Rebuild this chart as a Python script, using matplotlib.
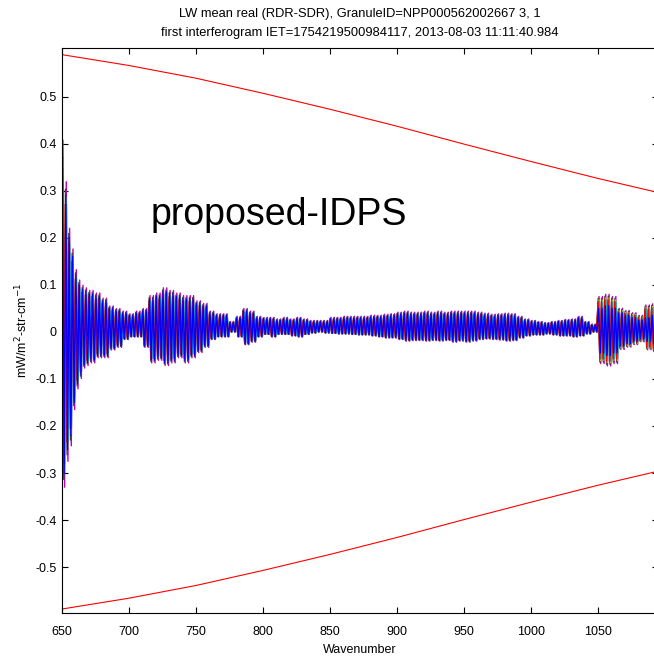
import numpy as np
import matplotlib
matplotlib.use('Agg')
import matplotlib.pyplot as plt

plt.rcParams['font.family'] = ['Liberation Sans', 'DejaVu Sans']
plt.rcParams['axes.unicode_minus'] = False

# spectral bins (cm-1): 2.5 wide near the band edge, 5 wide after
bin_edges = [650, 652.5, 655, 657.5, 660, 662.5, 665, 667.5, 670] + list(range(675, 1100, 5))

# blue (top-most) series: upper / lower extremes of the ringing per bin
blue_top = [0.37, 0.29, 0.20, 0.16, 0.12, 0.10, 0.09, 0.085,
            0.08, 0.075, 0.065, 0.05, 0.045,
            0.04, 0.035, 0.04, 0.045, 0.07,
            0.075, 0.085, 0.08, 0.075, 0.07,
            0.07, 0.06, 0.055, 0.04, 0.035,
            0.035, 0.02, 0.03, 0.045, 0.04,
            0.03, 0.028, 0.028, 0.025, 0.028,
            0.025, 0.028, 0.025, 0.022, 0.022,
            0.022, 0.028, 0.028, 0.03, 0.03,
            0.03, 0.03, 0.032, 0.032, 0.034,
            0.035, 0.038, 0.04, 0.038, 0.038,
            0.04, 0.038, 0.04, 0.038, 0.04,
            0.04, 0.04, 0.04, 0.038, 0.036,
            0.034, 0.035, 0.036, 0.035, 0.03,
            0.025, 0.022, 0.02, 0.018, 0.02,
            0.022, 0.024, 0.025, 0.03, 0.02,
            0.015, 0.05, 0.055, 0.05, 0.04,
            0.035, 0.03, 0.025, 0.03, 0.035]
blue_bot = [-0.30, -0.25, -0.22, -0.15, -0.11, -0.09, -0.07, -0.065,
            -0.06, -0.05, -0.05, -0.035, -0.03,
            -0.015, -0.01, -0.01, -0.03, -0.06,
            -0.055, -0.065, -0.06, -0.05, -0.06,
            -0.05, -0.04, -0.03, -0.015, -0.01,
            -0.01, 0.0, -0.01, -0.025, -0.02,
            -0.01, -0.005, -0.01, -0.005, -0.005,
            -0.008, -0.01, -0.005, -0.002, 0.0,
            -0.002, -0.003, -0.004, -0.004, -0.005,
            -0.006, -0.006, -0.008, -0.01, -0.012,
            -0.012, -0.015, -0.018, -0.017, -0.017,
            -0.018, -0.017, -0.018, -0.017, -0.02,
            -0.018, -0.02, -0.018, -0.015, -0.014,
            -0.015, -0.016, -0.018, -0.017, -0.012,
            -0.008, -0.006, -0.006, -0.004, -0.006,
            -0.008, -0.008, -0.01, -0.008, -0.004,
            0.0, -0.045, -0.05, -0.045, -0.03,
            -0.025, -0.02, -0.015, -0.02, -0.025]
# how far the other FOVs reach beyond blue, per bin
outer_scale = [1.1] * 84 + [1.5, 1.45, 1.5, 1.25, 1.3, 1.35, 1.4, 1.9, 1.7]

# other FOV lines (MATLAB colour order), gain relative to the outer envelope and shift in cm-1
fov_colors = [(0.75, 0, 0.75), (0.25, 0.25, 0.25), (0.75, 0.75, 0), (0, 0.5, 0), (0, 0.75, 0.75), (1, 0, 0)]
fov_gain = [1.0, 0.95, 0.9, 0.85, 0.85, 0.85]
fov_shift = [0.3, -0.3, 0.2, -0.2, 0.4, -0.4]

# red envelope
red_wn = [650, 700, 750, 800, 850, 900, 950, 1000, 1050, 1095]
red_top = [0.589, 0.566, 0.539, 0.507, 0.473, 0.437, 0.399, 0.362, 0.326, 0.296]

yticks = [-0.5, -0.4, -0.3, -0.2, -0.1, 0, 0.1, 0.2, 0.3, 0.4, 0.5]
ytick_labels = ['-0.5', '-0.4', '-0.3', '-0.2', '-0.1', '0', '0.1', '0.2', '0.3', '0.4', '0.5']
xticks = [650, 700, 750, 800, 850, 900, 950, 1000, 1050]


def zigzag(top, bot, scale):
    xs, ys = [], []
    for i in range(len(top)):
        lo, hi = bin_edges[i], bin_edges[i + 1]
        n = int(round((hi - lo) / 1.25))
        for k in range(n):
            xs.append(lo + 0.625 + 1.25 * k)
            ys.append((top[i] if k % 2 == 0 else bot[i]) * scale[i])
    return np.array(xs), np.array(ys)


fig = plt.figure(figsize=(6.54, 6.57), dpi=100)
ax = fig.add_axes([0.0943, 0.0665, 0.912, 0.8604])

for c, g, s in zip(fov_colors, fov_gain, fov_shift):
    xs, ys = zigzag(blue_top, blue_bot, outer_scale)
    ax.plot(xs + s, ys * g, color=c, lw=1.0)

xb, yb = zigzag(blue_top, blue_bot, [1.0] * len(blue_top))
ax.plot(xb, yb, color='b', lw=1.0)

ax.plot(red_wn, red_top, color='r', lw=0.8)
ax.plot(red_wn, [-v for v in red_top], color='r', lw=0.8)

ax.text(716, 0.249, 'proposed-IDPS', fontsize=27, va='center', ha='left')

ax.set_xlim(650, 1095)
ax.set_ylim(-0.598, 0.603)
ax.set_xticks(xticks)
ax.set_xticklabels([str(t) for t in xticks])
ax.set_yticks(yticks)
ax.set_yticklabels(ytick_labels)
ax.tick_params(direction='in', top=True, right=True, length=4, labelsize=9)
ax.tick_params(axis='x', pad=9)
ax.set_xlabel('Wavenumber', fontsize=9, labelpad=4.5)
ax.set_ylabel('mW/m$^2$-str-cm$^{-1}$', fontsize=9, labelpad=4)
ax.set_title('LW mean real (RDR-SDR), GranuleID=NPP000562002667 3, 1\n'
             'first interferogram IET=1754219500984117, 2013-08-03 11:11:40.984',
             fontsize=9.3, pad=8.5, linespacing=1.75)

fig.savefig('out.png', dpi=100)
